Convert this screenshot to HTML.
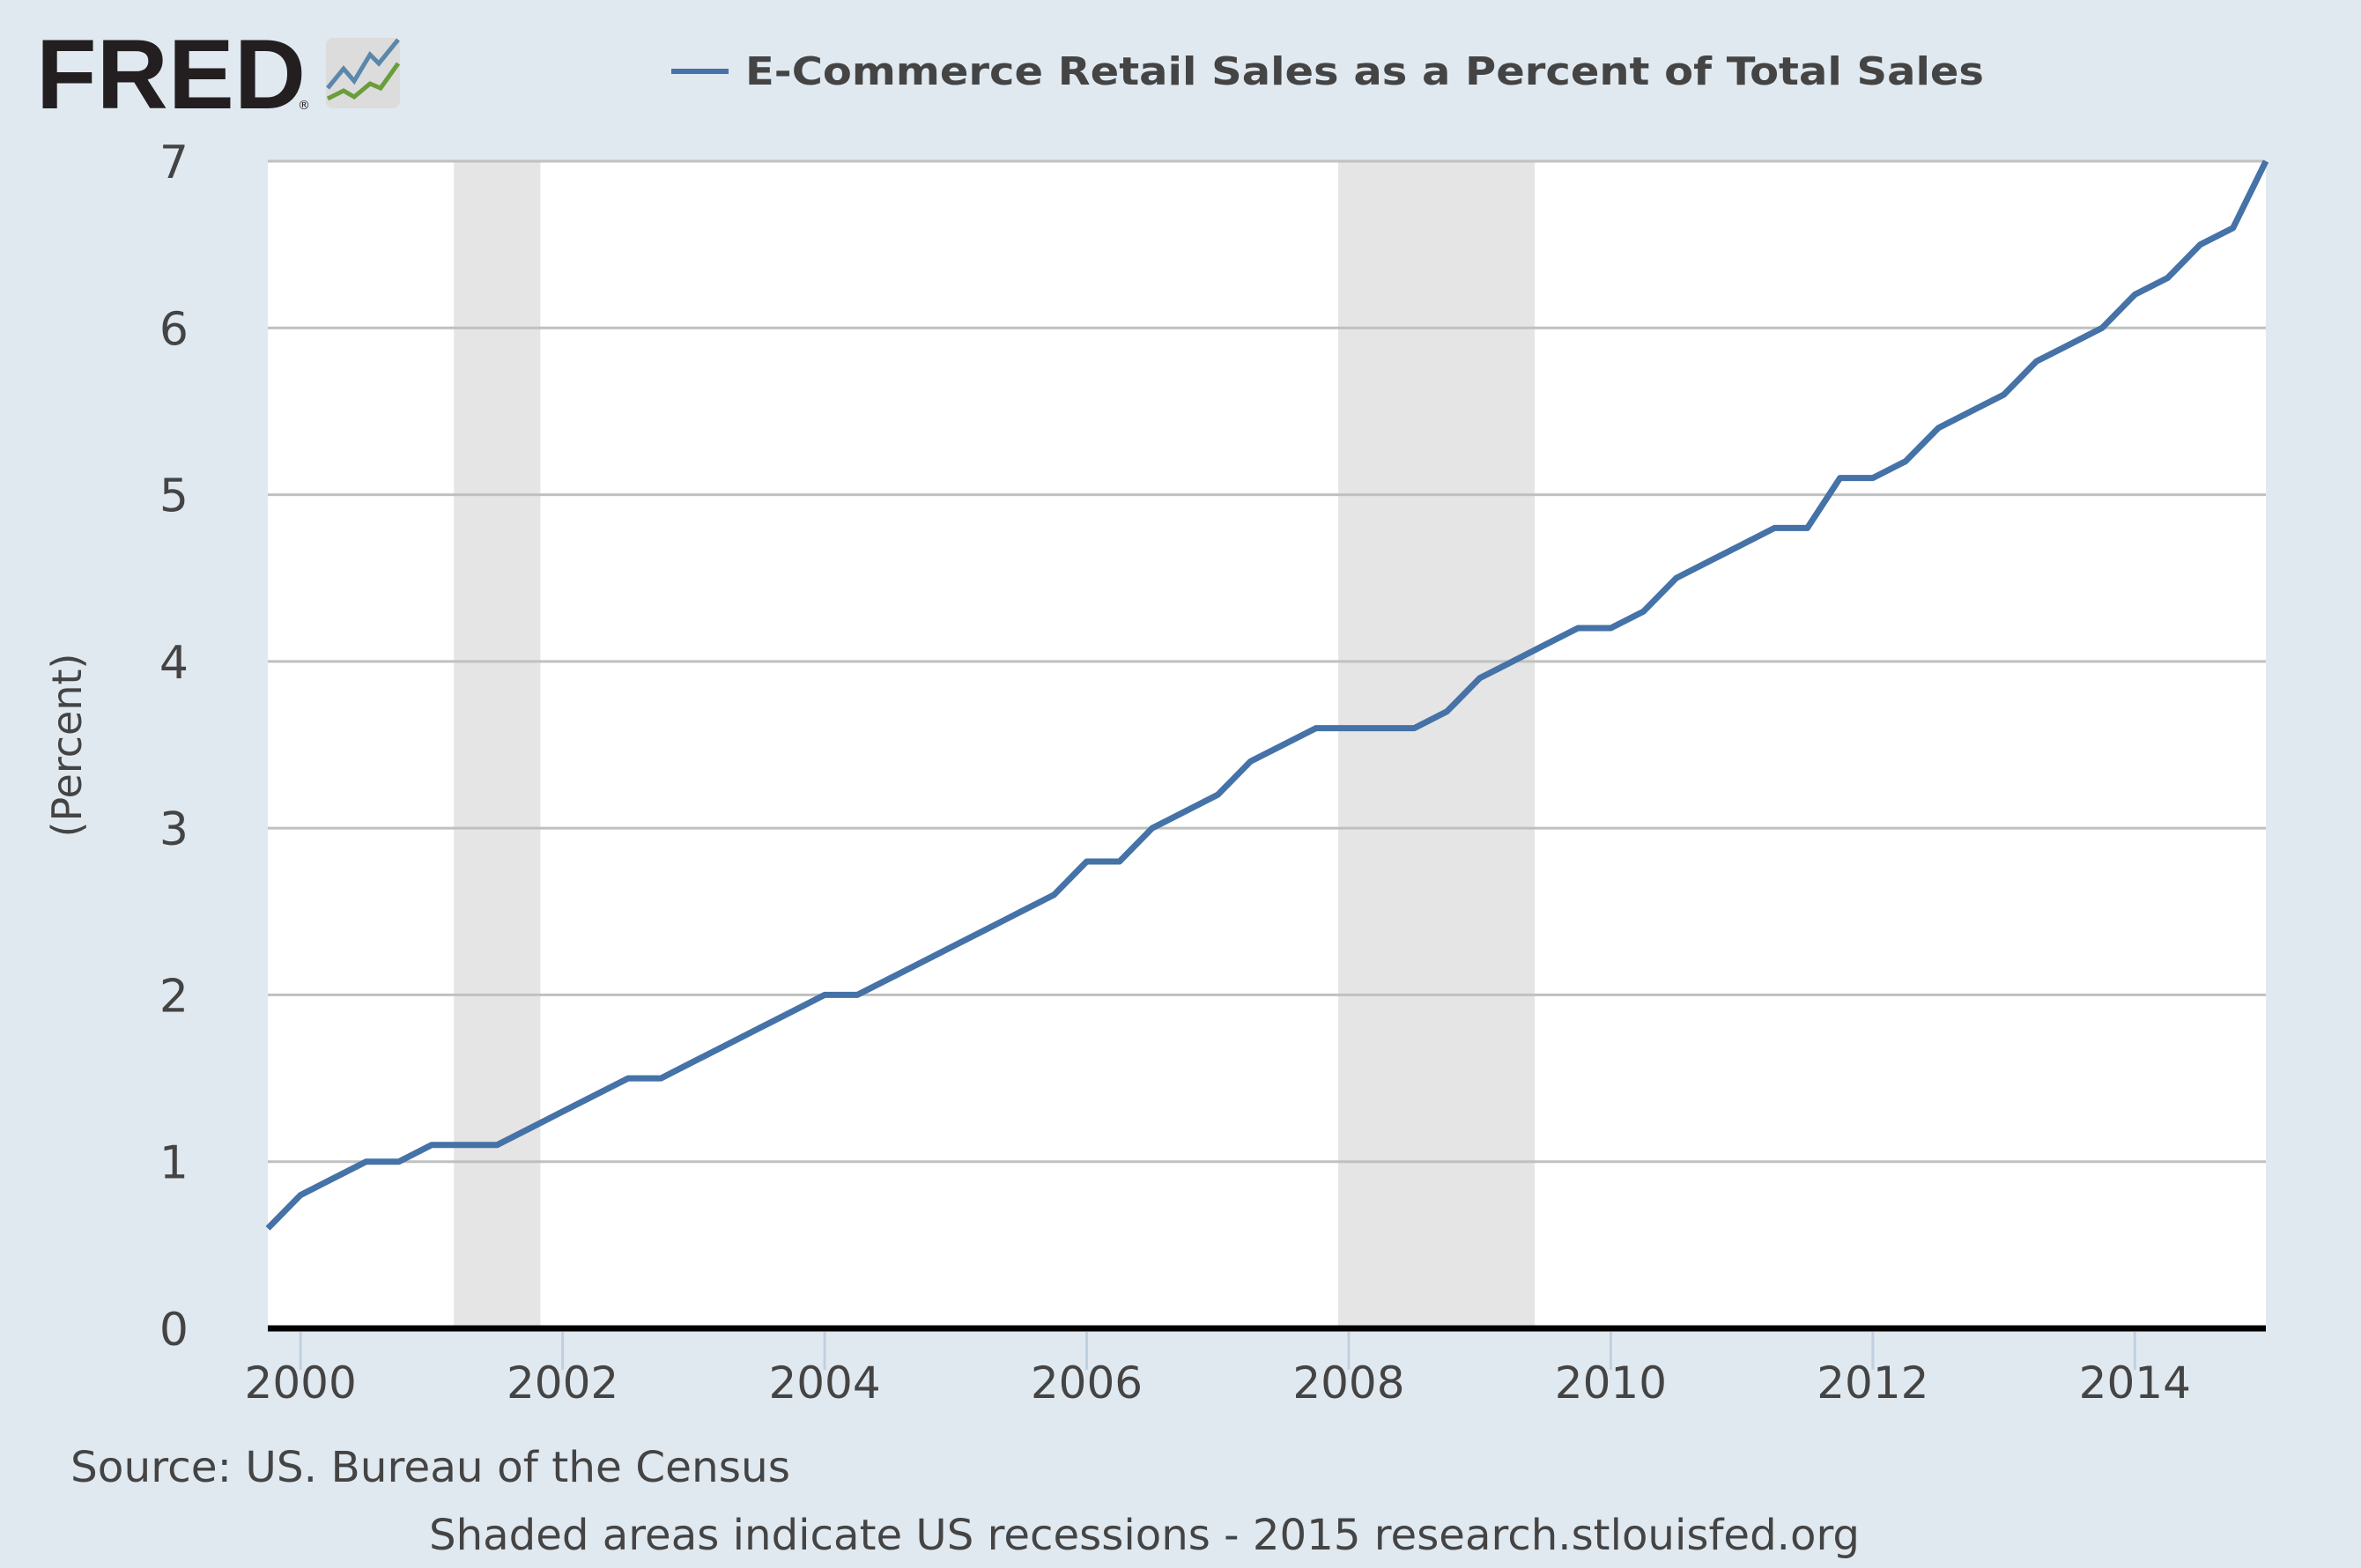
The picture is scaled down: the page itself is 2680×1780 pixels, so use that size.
<!DOCTYPE html>
<html><head><meta charset="utf-8"><style>
body{margin:0;background:#e1e9f0;}
svg{display:block;font-family:"DejaVu Sans","Liberation Sans",sans-serif;}
</style></head><body>
<svg id="chart" width="2680" height="1780" viewBox="0 0 2680 1780">
<rect x="0" y="0" width="2680" height="1780" fill="#e1e9f0"/>
<g>
<text x="41" y="123" font-family="Liberation Sans, sans-serif" font-weight="bold" font-size="112" fill="#231f20" textLength="306" lengthAdjust="spacingAndGlyphs">FRED</text>
<text x="338" y="124" font-size="14" fill="#231f20">®</text>
<rect x="370" y="43" width="84" height="80" rx="8" fill="#dcdcdc"/>
<polyline points="372,100 390,78 402,92 420,62 430,72 452,45" fill="none" stroke="#5b87ab" stroke-width="5"/>
<polyline points="372,112 390,103 402,110 420,95 432,100 452,72" fill="none" stroke="#6a9e3a" stroke-width="5"/>
</g>
<g>
<line x1="762" y1="81" x2="827" y2="81" stroke="#4572a7" stroke-width="6"/>
<text x="846" y="96" font-size="44" font-weight="bold" fill="#444" textLength="1406" lengthAdjust="spacingAndGlyphs">E-Commerce Retail Sales as a Percent of Total Sales</text>
</g>
<rect x="304" y="183" width="2268" height="1325" fill="#ffffff"/>
<g id="rec"></g>
<g id="grid"></g>
<g id="series"></g>
<g id="axes"></g>
<text transform="translate(92,846) rotate(-90)" text-anchor="middle" font-size="46" fill="#444">(Percent)</text>
<text x="80" y="1682" font-size="48" fill="#444" textLength="817" lengthAdjust="spacingAndGlyphs">Source: US. Bureau of the Census</text>
<text x="487" y="1759" font-size="48" fill="#444" textLength="1624" lengthAdjust="spacingAndGlyphs">Shaded areas indicate US recessions - 2015 research.stlouisfed.org</text>
</svg>
<script>
const values=[0.6,0.8,0.9,1.0,1.0,1.1,1.1,1.1,1.2,1.3,1.4,1.5,1.5,1.6,1.7,1.8,1.9,2.0,2.0,2.1,2.2,2.3,2.4,2.5,2.6,2.8,2.8,3.0,3.1,3.2,3.4,3.5,3.6,3.6,3.6,3.6,3.7,3.9,4.0,4.1,4.2,4.2,4.3,4.5,4.6,4.7,4.8,4.8,5.1,5.1,5.2,5.4,5.5,5.6,5.8,5.9,6.0,6.2,6.3,6.5,6.6,7.0];
const startYear=1999.75;
const yTicks=[0,1,2,3,4,5,6,7];
const xTicks=[2000,2002,2004,2006,2008,2010,2012,2014];
const recStarts=[2001.17,2007.92];
const recEnds=[2001.83,2009.42];
const NS='http://www.w3.org/2000/svg';
const L=304,R=2572,T=183,B=1508,X0=1999.75,X1=2015.0,YMAX=7;
function xs(t){return L+(t-X0)/(X1-X0)*(R-L);}
function ys(v){return B-v/YMAX*(B-T);}
function mk(tag,attrs,parent){const e=document.createElementNS(NS,tag);for(const k in attrs)e.setAttribute(k,attrs[k]);document.getElementById(parent).appendChild(e);return e;}
for(let i=0;i<recStarts.length;i++){
 const r=mk('rect',{x:xs(recStarts[i]),y:T,width:xs(recEnds[i])-xs(recStarts[i]),height:B-T,fill:'#e5e5e5'},'rec');
 
 
}
yTicks.forEach(v=>{
 if(v>0){const g=mk('line',{x1:L,x2:R,y1:ys(v),y2:ys(v),stroke:'#c0c0c0','stroke-width':3},'grid');
 
 }
 const t=mk('text',{x:214,y:ys(v)+19,'text-anchor':'end','font-size':52,fill:'#444'},'axes');
 t.textContent=v;
 
 
});
const pts=values.map((v,i)=>xs(startYear+i*0.25).toFixed(1)+','+ys(v).toFixed(1)).join(' ');
const pl=mk('polyline',{points:pts,fill:'none',stroke:'#4572a7','stroke-width':7,'stroke-linejoin':'round'},'series');


const ax=mk('line',{x1:L,x2:R,y1:B,y2:B,stroke:'#000','stroke-width':7},'axes');


xTicks.forEach(y=>{
 const tk=mk('line',{x1:xs(y),x2:xs(y),y1:B+4,y2:B+47,stroke:'#c0d0e0','stroke-width':3},'axes');
 
 
 const t=mk('text',{x:xs(y),y:1587,'text-anchor':'middle','font-size':50,fill:'#444'},'axes');
 t.textContent=y;
 
 
});
</script>
</body></html>
